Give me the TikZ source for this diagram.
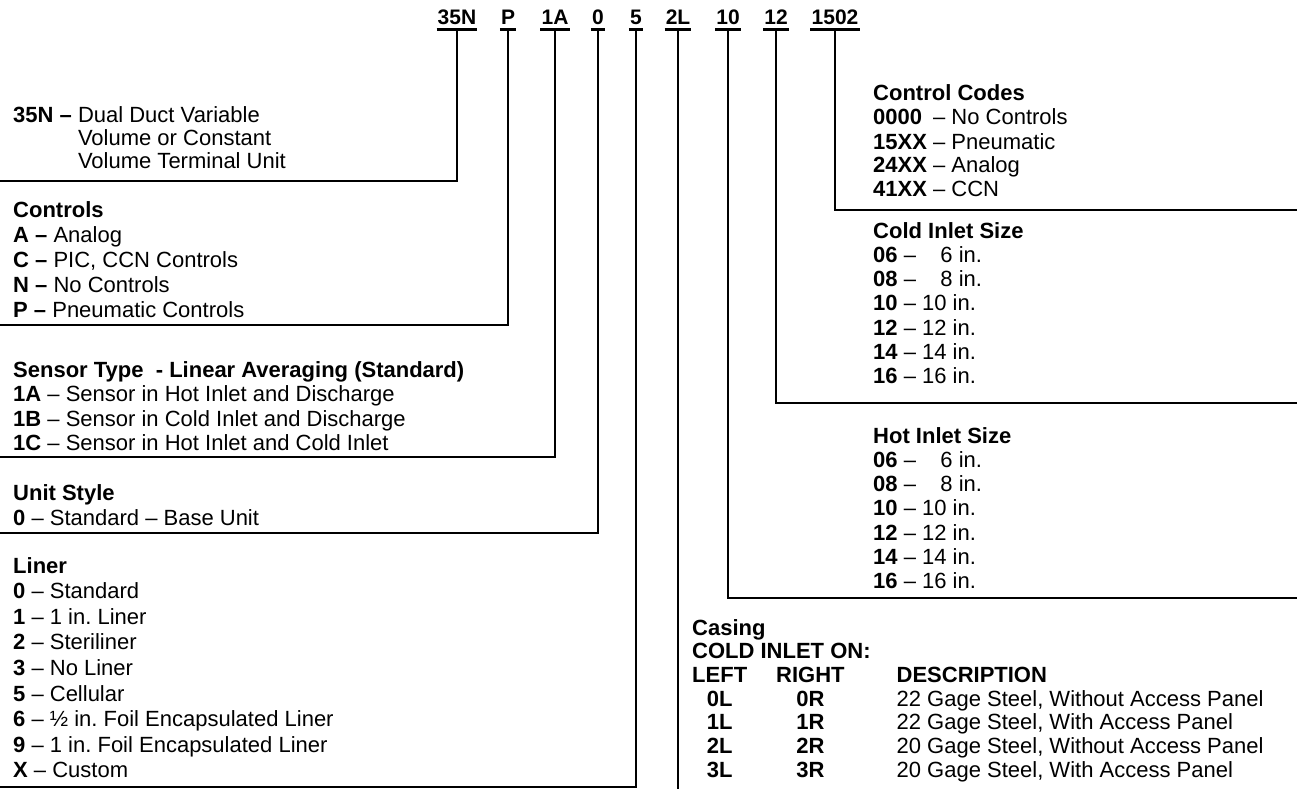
\documentclass[tikz,border=0pt]{standalone}
\usepackage{fontspec}
\setmainfont{Liberation Sans}
\frenchspacing
\begin{document}
\begin{tikzpicture}[x=1pt,y=-1pt,
  rule/.style={line width=2.3pt, line join=miter},
  uline/.style={line width=3pt},
  code/.style={anchor=south, inner xsep=1pt, inner ysep=5pt, font=\fontsize{21}{24}\selectfont\bfseries},
  txt/.style={anchor=base west, inner sep=0pt, font=\fontsize{22}{#1}\selectfont\frenchspacing},
  txt/.default=24]
\useasboundingbox (0,0) rectangle (1297,789);

% code letters
\node[code] (c35N) at (457,30) {35N};
\node[code] (cP) at (508,30) {P};
\node[code] (c1A) at (555,30) {1A};
\node[code] (c0) at (598,30) {0};
\node[code] (c5) at (636,30) {5};
\node[code] (c2L) at (678,30) {2L};
\node[code] (c10) at (728,30) {10};
\node[code] (c12) at (776,30) {12};
\node[code] (c1502) at (835,30) {1502};

% line ends
\coordinate (e35N) at (0,181);
\coordinate (eP) at (0,325);
\coordinate (e1A) at (0,457);
\coordinate (e0) at (0,533);
\coordinate (e5) at (0,787);
\coordinate (e2L) at (678,789);
\coordinate (e10) at (1297,598);
\coordinate (e12) at (1297,403);
\coordinate (e1502) at (1297,210);

\foreach \n in {35N,P,1A,0,5,2L,10,12,1502}
  \draw[uline] (c\n.south west) -- (c\n.south east);

\draw[rule] (c35N.south) |- (e35N);
\draw[rule] (cP.south) |- (eP);
\draw[rule] (c1A.south) |- (e1A);
\draw[rule] (c0.south) |- (e0);
\draw[rule] (c5.south) |- (e5);
\draw[rule] (c2L.south) -- (e2L);
\draw[rule] (c10.south) |- (e10);
\draw[rule] (c12.south) |- (e12);
\draw[rule] (c1502.south) |- (e1502);

% left column
\node[txt=23.5] (t35N) at (13,122) {\begin{tabular}[t]{@{}l@{\ }l@{}}
\textbf{35N --} & Dual Duct Variable\\
 & Volume or Constant\\
 & Volume Terminal Unit
\end{tabular}};

\node[txt=25] (tP) at (13,217) {\begin{tabular}[t]{@{}l@{}}
\textbf{Controls}\\
\textbf{A --} Analog\\
\textbf{C --} PIC, CCN Controls\\
\textbf{N --} No Controls\\
\textbf{P --} Pneumatic Controls
\end{tabular}};

\node[txt=24.5] (t1A) at (13,377) {\begin{tabular}[t]{@{}l@{}}
\textbf{Sensor Type\ \ - Linear Averaging (Standard)}\\
\textbf{1A} -- Sensor in Hot Inlet and Discharge\\
\textbf{1B} -- Sensor in Cold Inlet and Discharge\\
\textbf{1C} -- Sensor in Hot Inlet and Cold Inlet
\end{tabular}};

\node[txt=25] (t0) at (13,500) {\begin{tabular}[t]{@{}l@{}}
\textbf{Unit Style}\\
\textbf{0} -- Standard -- Base Unit
\end{tabular}};

\node[txt=25.6] (t5) at (13,573) {\begin{tabular}[t]{@{}l@{}}
\textbf{Liner}\\
\textbf{0} -- Standard\\
\textbf{1} -- 1 in. Liner\\
\textbf{2} -- Steriliner\\
\textbf{3} -- No Liner\\
\textbf{5} -- Cellular\\
\textbf{6} -- ½ in. Foil Encapsulated Liner\\
\textbf{9} -- 1 in. Foil Encapsulated Liner\\
\textbf{X} -- Custom
\end{tabular}};

% right column
\node[txt=24] (t1502) at (873,101) {\begin{tabular}[t]{@{}l@{\ }l@{}}
\multicolumn{2}{@{}l@{}}{\textbf{Control Codes}}\\
\textbf{0000} & -- No Controls\\
\textbf{15XX} & -- Pneumatic\\
\textbf{24XX} & -- Analog\\
\textbf{41XX} & -- CCN
\end{tabular}};

\node[txt=24.3] (t12) at (873,238) {\begin{tabular}[t]{@{}l@{}}
\textbf{Cold Inlet Size}\\
\textbf{06} -- \ \phantom{0}6 in.\\
\textbf{08} -- \ \phantom{0}8 in.\\
\textbf{10} -- 10 in.\\
\textbf{12} -- 12 in.\\
\textbf{14} -- 14 in.\\
\textbf{16} -- 16 in.
\end{tabular}};

\node[txt=24.3] (t10) at (873,443) {\begin{tabular}[t]{@{}l@{}}
\textbf{Hot Inlet Size}\\
\textbf{06} -- \ \phantom{0}6 in.\\
\textbf{08} -- \ \phantom{0}8 in.\\
\textbf{10} -- 10 in.\\
\textbf{12} -- 12 in.\\
\textbf{14} -- 14 in.\\
\textbf{16} -- 16 in.
\end{tabular}};

\node[txt=23.7] (t2L) at (692,635) {\begin{tabular}[t]{@{}c@{\hspace{29pt}}c@{\hspace{52pt}}l@{}}
\multicolumn{3}{@{}l@{}}{\textbf{Casing}}\\
\multicolumn{3}{@{}l@{}}{\textbf{COLD INLET ON:}}\\
\textbf{LEFT} & \textbf{RIGHT} & \textbf{DESCRIPTION}\\
\textbf{0L} & \textbf{0R} & 22 Gage Steel, Without Access Panel\\
\textbf{1L} & \textbf{1R} & 22 Gage Steel, With Access Panel\\
\textbf{2L} & \textbf{2R} & 20 Gage Steel, Without Access Panel\\
\textbf{3L} & \textbf{3R} & 20 Gage Steel, With Access Panel
\end{tabular}};
\end{tikzpicture}
\end{document}
